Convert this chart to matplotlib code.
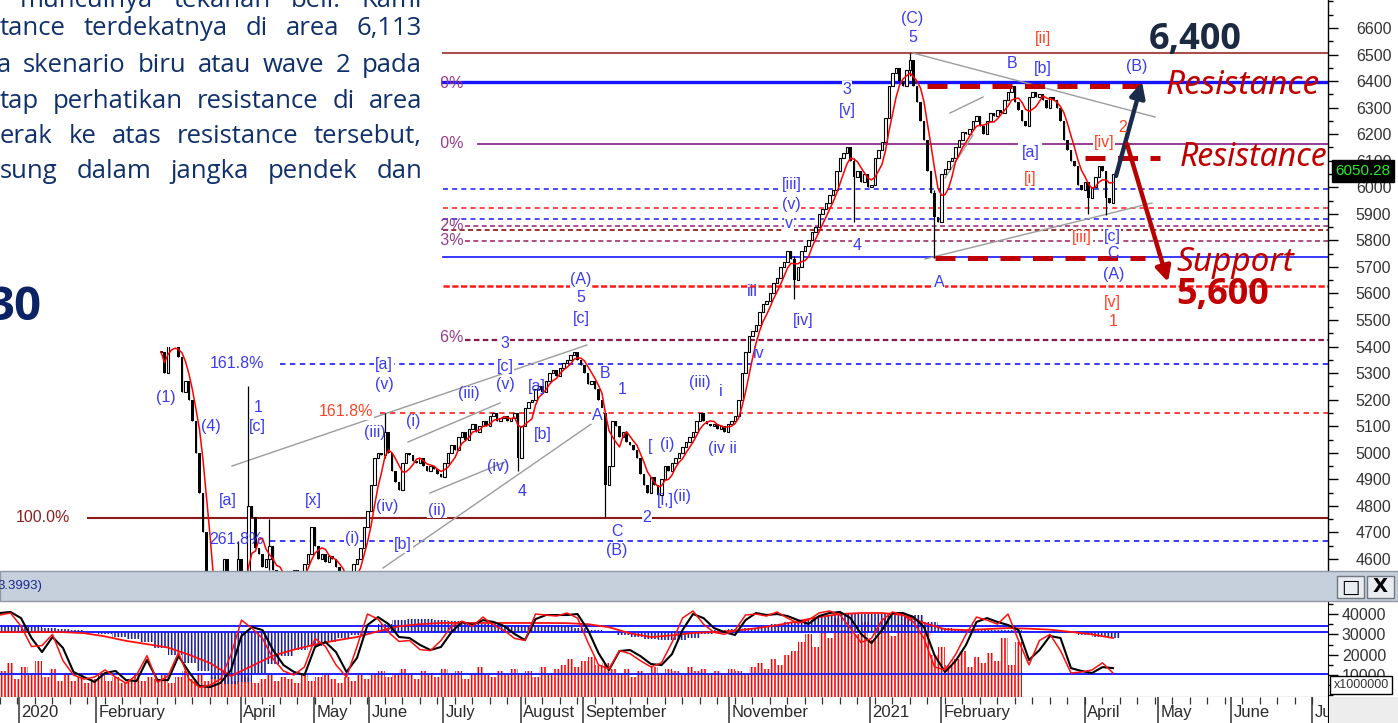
import numpy as np
import pandas as pd
import matplotlib
matplotlib.use("Agg")
import matplotlib.pyplot as plt
from matplotlib.patches import Rectangle
from matplotlib.ticker import MultipleLocator, FuncFormatter

plt.rcParams['font.family'] = ['Liberation Sans', 'DejaVu Sans']
plt.rcParams['hatch.linewidth'] = 1.15

W, H = 1398, 723
STEP = 3.5          # screen pixels per trading day
FIRST_BAR = 46      # bar index of the first visible candle

# ---------------- data ----------------
close = [
    5380, 5300, 5430, 5440, 5420, 5360, 5230, 5270, 5200, 5120,
    5000, 4850, 4700, 4500, 4400, 4200, 4300, 4450, 4600, 4450,
    4350, 4500, 4600, 4400, 4550, 4800, 4760, 4640, 4620, 4570,
    4600, 4650, 4560, 4500, 4540, 4480, 4520, 4470, 4560, 4520,
    4540, 4580, 4620, 4720, 4650, 4600, 4620, 4590, 4610, 4600,
    4570, 4540, 4500, 4480, 4530, 4580, 4600, 4640, 4720, 4780,
    4880, 4980, 5000, 4990, 5080, 5000, 4930, 4890, 4860, 4960,
    5000, 4990, 4970, 4960, 4980, 4950, 4930, 4950, 4940, 4920,
    4910, 4960, 5000, 5030, 5010, 5060, 5080, 5050, 5090, 5110,
    5080, 5100, 5120, 5100, 5140, 5150, 5120, 5130, 5140, 5120,
    5130, 5150, 4980, 5100, 5170, 5190, 5200, 5240, 5250, 5230,
    5270, 5300, 5310, 5290, 5320, 5340, 5350, 5370, 5380, 5350,
    5330, 5300, 5260, 5270, 5240, 5200, 5150, 4880, 4950, 5120,
    5100, 5060, 5080, 5040, 5030, 5010, 4980, 4920, 4880, 4850,
    4910, 4880, 4840, 4900, 4950, 4930, 4960, 4980, 5000, 5020,
    5040, 5060, 5080, 5120, 5150, 5120, 5110, 5100, 5110, 5090,
    5100, 5080, 5110, 5120, 5140, 5200, 5300, 5380, 5440, 5460,
    5480, 5530, 5560, 5570, 5600, 5640, 5660, 5700, 5720, 5760,
    5730, 5650, 5700, 5760, 5780, 5800, 5830, 5850, 5900, 5920,
    5940, 5970, 5990, 6060, 6110, 6130, 6150, 6100, 6040, 6060,
    6020, 6050, 6000, 6010, 6110, 6140, 6170, 6260, 6380, 6430,
    6450, 6400, 6380, 6440, 6480, 6380, 6320, 6250, 6180, 6060,
    5980, 5890, 5870, 6050, 6070, 6100, 6110, 6150, 6180, 6210,
    6200, 6220, 6250, 6270, 6230, 6200, 6250, 6280, 6270, 6290,
    6280, 6330, 6360, 6380, 6320, 6290, 6250, 6230, 6340, 6360,
    6340, 6350, 6330, 6300, 6340, 6330, 6300, 6250, 6180, 6140,
    6100, 6080, 6010, 5990, 6020, 5960, 6000, 6040, 6080, 6060,
    5960, 5940, 6050.28,
]
wick_idx = [22, 25, 31, 64, 102, 127, 181, 198, 214, 221, 265, 270]
wick_low = [4420, 4590, 4560, 4980, 4930, 4760, 5580, 5870, 6420, 5735, 5900, 5895]
wick_high = [4668, 5253, 4750, 5151, 5150, 5150, 5740, 6110, 6505, 5990, 6020, 6060]

level_prices = [6505, 6395, 6162, 5993, 5921, 5879, 5853, 5840, 5796, 5736,
                5630, 5423, 5333, 5151, 4755, 4668]
sr_prices = [6382, 6109, 5735]

# lower panel (values in thousands)
osc_black = [
    40.5, 41.0, 38.0, 28.2, 21.3, 28.7, 23.3, 11.5, 9.0, 6.6,
    11.0, 12.0, 7.5, 7.0, 17.4, 7.5, 7.5, 19.3, 11.5, 4.6,
    4.1, 6.1, 12.5, 29.2, 33.6, 32.1, 22.3, 14.9, 11.5, 10.0,
    23.8, 26.2, 21.3, 11.5, 18.4, 34.6, 38.5, 35.1, 28.7, 28.2,
    24.8, 22.3, 23.8, 31.1, 36.1, 34.6, 37.0, 36.1, 34.1, 30.2,
    27.2, 37.5, 39.5, 39.5, 39.5, 40.0, 32.1, 20.8, 12.5, 21.8,
    22.3, 19.3, 15.4, 14.9, 20.3, 32.1, 40.0, 38.0, 33.1, 31.1,
    29.7, 37.0, 40.5, 39.5, 40.0, 39.0, 37.0, 35.1, 39.0, 40.5,
    41.0, 38.0, 30.2, 25.7, 32.1, 40.5, 40.5, 38.5, 33.6, 19.8,
    11.5, 16.9, 24.8, 36.1, 38.0, 36.1, 34.6, 32.1, 17.4, 22.3,
    29.2, 28.2, 13.4, 12.0, 11.0, 13.9, 13.4,
]
osc_red = [
    39.5, 40.5, 34.0, 24.0, 24.5, 30.0, 17.0, 10.0, 8.0, 9.0,
    12.5, 9.0, 6.0, 10.0, 19.5, 6.5, 9.5, 21.0, 8.0, 4.0,
    5.0, 8.0, 20.0, 37.0, 33.0, 28.0, 18.0, 12.0, 10.0, 14.0,
    28.0, 24.0, 15.0, 9.0, 24.0, 40.0, 37.5, 31.0, 26.5, 27.0,
    22.5, 22.0, 27.0, 34.0, 36.5, 34.0, 38.5, 34.5, 32.0, 28.0,
    27.0, 40.0, 39.5, 39.0, 40.5, 38.0, 26.0, 15.0, 13.0, 22.0,
    20.5, 17.0, 14.0, 16.0, 26.0, 38.0, 41.5, 35.0, 31.0, 30.0,
    32.0, 39.5, 40.0, 39.0, 41.0, 38.0, 35.5, 37.0, 40.5, 41.5,
    39.5, 33.0, 26.0, 28.0, 37.0, 41.0, 39.5, 36.0, 28.0, 14.0,
    12.5, 20.0, 30.0, 38.5, 37.0, 35.0, 40.0, 27.0, 15.0, 27.0,
    30.0, 22.0, 11.0, 11.5, 12.5, 16.0, 11.0,
]
osc_slow = [
    31.1, 31.1, 31.1, 31.1, 30.6, 29.0, 26.8, 25.2, 23.5, 20.0,
    15.9, 9.5, 14.5, 19.5, 22.5, 25.0, 27.0, 28.7, 31.5, 34.0,
    35.0, 35.6, 35.6, 35.6, 35.6, 35.6, 35.6, 35.5, 35.0, 33.5,
    30.5, 28.7, 29.5, 30.7, 31.1, 31.8, 33.0, 34.5, 36.5, 38.5,
    40.0, 40.5, 40.5, 39.5, 35.6, 32.5, 32.1, 32.6, 33.1, 32.8,
    32.3, 31.2, 30.0, 28.2,
]
hist_vals = [
    34.0, 34.0, 33.5, 33.0, 32.5, 32.0, 31.0, 30.0, 28.5, 27.5,
    26.0, 23.5, 20.0, 16.0, 12.0, 8.0, 5.5, 6.5, 11.0, 15.5,
    19.5, 22.5, 24.5, 26.0, 28.0, 29.5, 31.5, 35.0, 37.0, 37.5,
    37.5, 37.0, 36.5, 35.5, 35.0, 35.0, 34.5, 34.5, 34.0, 34.0,
    33.5, 33.0, 32.0, 30.5, 29.5, 28.5, 27.5, 27.0, 27.0, 28.0,
    30.0, 32.0, 32.5, 33.0, 34.0, 35.0, 36.0, 37.0, 38.5, 39.5,
    40.0, 40.0, 40.0, 40.0, 40.0, 39.5, 36.0, 33.0, 32.0, 32.0,
    32.0, 32.0, 32.0, 31.5, 31.5, 31.0, 30.5, 29.5, 28.5, 28.0,
]
hist_base = 31.0
volume = [
    12, 16, 8, 14, 10, 17, 9, 13, 7, 11,
    7, 9, 6, 8, 10, 7, 9, 6, 8, 11, 7, 9, 8, 10, 6, 9, 12, 8, 10, 7, 9,
    8, 10, 7, 11, 9, 6, 8, 10, 7, 9, 8, 6, 10, 7, 9, 11, 8, 6, 9, 7, 10, 8,
    10, 12, 9, 11, 13, 10, 8, 12, 11, 9, 13, 10, 12, 8, 11, 14, 10, 9, 12, 11,
    13, 10, 12, 9, 14, 11, 13,
    15, 18, 14, 17, 19, 15, 16, 13,
    11, 13, 9, 12, 10, 14, 11, 13, 12, 10, 14, 12, 13,
    11, 12, 10, 13, 12, 11,
    14, 16, 13, 18, 15, 20, 22,
    26, 30, 24, 34, 28, 38, 32, 40, 30, 36, 27, 33, 38, 29, 35, 40, 31, 37, 34,
    20, 24, 15, 18, 22, 14, 19, 16, 21, 17, 28, 15, 26,
]
ref_lines = [34.1, 31.1, 10.5]

month_names = ["2020", "February", "April", "May", "June", "July", "August",
               "September", "November", "2021", "February", "April", "May",
               "June", "July"]
month_px = [19, 96, 241, 314, 369, 443, 521, 583, 729, 870, 941, 1085, 1158,
            1231, 1312]

# text lines of the (cropped) commentary box, first word's left edge
para_lines = [
    (7, 20, "munculnya tekanan beli. Kami"),
    (35, 0, "tance terdekatnya di area 6,113"),
    (72, -3, "a skenario biru atau wave 2 pada"),
    (108, 0, "tap perhatikan resistance di area"),
    (143, 0, "erak ke atas resistance tersebut,"),
    (178, 0, "sung dalam jangka pendek dan"),
]

# ---------------- helpers ----------------
fig = plt.figure(figsize=(W / 100, H / 100), dpi=100)
fig.patch.set_facecolor('white')


def box(x0, y0, x1, y1):
    return [x0 / W, 1 - y1 / H, (x1 - x0) / W, (y1 - y0) / H]


def bx(px):
    return px / STEP


def py(y):
    return 6600 - (y - 28) / 0.2655


def ftext(x, y, s, **kw):
    return fig.text(x / W, 1 - y / H, s, **kw)


BLUE = '#3b3bf2'
RED = '#ff4326'

# ---------------- price panel ----------------
ax = fig.add_axes(box(0, 0, 1328, 571))
ax.set_xlim(0, bx(1328))
ax.set_ylim(py(571), py(0))
for s in ['left', 'top', 'bottom']:
    ax.spines[s].set_visible(False)
ax.spines['right'].set_linewidth(1.0)
ax.set_xticks([])
ax.yaxis.tick_right()
ax.set_yticks(np.arange(4600, 6601, 100))
ax.yaxis.set_minor_locator(MultipleLocator(50))
ax.tick_params(axis='y', which='major', length=7, width=1, pad=13,
               labelsize=11.5, labelcolor='#333333')
ax.tick_params(axis='y', which='minor', length=3.5, width=1)

# horizontal fibonacci / wave levels
lvl_style = [
    ('#a8504a', '-', 1.5, [(443, 1328)]),
    ('#1414ff', '-', 2.4, [(443, 1328)]),
    ('#8e2c8e', '-', 1.3, [(478, 1017), (1043, 1328)]),
    ('#2a2aff', (0, (3, 2.5)), 1.2, [(443, 1328)]),
    ('#ff2a2a', (0, (3, 2.5)), 1.2, [(443, 1328)]),
    ('#2a2aff', (0, (3, 2.5)), 1.2, [(443, 1328)]),
    ('#a03080', (0, (3, 2)), 1.2, [(465, 1328)]),
    ('#8b1010', (0, (3, 2)), 1.2, [(443, 1328)]),
    ('#a03070', (0, (3, 2)), 1.2, [(465, 1328)]),
    ('#2a2aff', '-', 1.3, [(443, 1328)]),
    ('#ff1a1a', (0, (2.5, 1)), 1.8, [(443, 1328)]),
    ('#8b1a4b', (0, (2.5, 1.5)), 1.6, [(465, 1328)]),
    ('#2a2aff', (0, (3, 2.5)), 1.3, [(280, 1328)]),
    ('#ff2a2a', (0, (3, 2.5)), 1.3, [(380, 1328)]),
    ('#8b1a1a', '-', 1.5, [(88, 1328)]),
    ('#2a2aff', (0, (3, 2.5)), 1.3, [(270, 1328)]),
]
for price, (col, ls, lw, segs) in zip(level_prices, lvl_style):
    for x0, x1 in segs:
        ax.plot([bx(x0), bx(x1)], [price, price], color=col, ls=ls, lw=lw, zorder=2)

# gray trend lines
for x0, y0, x1, y1 in [(232, 466, 587, 345), (408, 442, 500, 403),
                       (430, 493, 505, 462), (383, 568, 597, 420),
                       (913, 53, 1155, 117), (925, 259, 1152, 203),
                       (950, 113, 983, 97), (945, 178, 973, 135)]:
    ax.plot([bx(x0), bx(x1)], [py(y0), py(y1)], color='#9c9c9c', lw=1, zorder=3)

# candles
c = np.array(close, float)
o = np.r_[c[0], c[:-1]]
hi = np.maximum(o, c)
lo = np.minimum(o, c)
hw, lw_ = hi.copy(), lo.copy()
for i, l, h in zip(wick_idx, wick_low, wick_high):
    lw_[i] = min(lw_[i], l)
    hw[i] = max(hw[i], h)
xb = FIRST_BAR + np.arange(len(c))
ax.vlines(xb, lw_, hw, color='black', lw=0.9, zorder=4)
up = c >= o
hgt = np.maximum(hi - lo, 5)
ax.bar(xb[up], hgt[up], bottom=lo[up], width=0.75, facecolor='white',
       edgecolor='black', lw=0.8, zorder=5)
ax.bar(xb[~up], hgt[~up], bottom=lo[~up], width=0.75, color='black', zorder=5)
ma = pd.Series(c).rolling(5, min_periods=1).mean()
ax.plot(xb, ma, color='#ff0000', lw=1.1, zorder=6)

# support / resistance dashes
for price, (x0, x1) in zip(sr_prices, [(927, 1145), (1085, 1160), (935, 1145)]):
    ax.plot([bx(x0), bx(x1)], [price, price], color='#c00000', lw=3.6,
            ls=(0, (4, 2.5)), zorder=7, solid_capstyle='butt')

# arrows
ax.annotate('', xy=(1142, H - 82), xycoords='figure pixels',
            xytext=(1116, H - 176), textcoords='figure pixels',
            arrowprops=dict(arrowstyle='-|>,head_length=0.9,head_width=0.45',
                            color='#1b2b4b', lw=3.2, shrinkA=0, shrinkB=0),
            zorder=8)
ax.annotate('', xy=(1168, H - 282), xycoords='figure pixels',
            xytext=(1127, H - 144), textcoords='figure pixels',
            arrowprops=dict(arrowstyle='-|>,head_length=0.9,head_width=0.45',
                            color='#b80000', lw=3.2, shrinkA=0, shrinkB=0),
            zorder=8)

# wave labels
B, R = BLUE, RED
labels = [
    ("(C)", 912, 19, B, 0), ("5", 913, 38, B, 0), ("[ii]", 1043, 39, R, 0),
    ("B", 1012, 64, B, 0), ("[b]", 1043, 69, B, 0), ("(B)", 1137, 67, B, 0),
    ("3", 847, 89, B, 1), ("[v]", 847, 110, B, 0), ("2", 1123, 128, R, 0),
    ("[iv]", 1104, 142, R, 1), ("[a]", 1031, 153, B, 0), ("[i]", 1030, 179, R, 0),
    ("[iii]", 792, 185, B, 1), ("(v)", 791, 205, B, 1), ("v", 789, 223, B, 1),
    ("[iii]", 1082, 238, R, 1), ("[c]", 1112, 237, B, 1), ("4", 857, 246, B, 1),
    ("C", 1113, 253, B, 0), ("(A)", 1114, 274, B, 0), ("A", 939, 283, B, 1),
    ("(A)", 581, 280, B, 1), ("5", 581, 298, B, 0), ("[c]", 581, 318, B, 0),
    ("iii", 752, 292, B, 0), ("[v]", 1112, 302, R, 0), ("1", 1113, 321, R, 0),
    ("[iv]", 803, 320, B, 0), ("3", 505, 344, B, 1), ("iv", 759, 353, B, 0),
    ("[a]", 384, 365, B, 1), ("[c]", 505, 366, B, 1), ("B", 605, 373, B, 0),
    ("(iii)", 700, 383, B, 0), ("(v)", 384, 384, B, 0), ("(v)", 505, 384, B, 0),
    ("[a]", 537, 387, B, 0), ("1", 622, 389, B, 0), ("i", 721, 392, B, 0),
    ("(iii)", 469, 394, B, 0), ("(1)", 166, 397, B, 0), ("1", 258, 408, B, 0),
    ("A", 597, 416, B, 1), ("(i)", 413, 421, B, 0), ("(4)", 211, 427, B, 0),
    ("[c]", 257, 427, B, 0), ("(iii)", 375, 433, B, 0), ("[b]", 543, 434, B, 0),
    ("[", 650, 447, B, 0), ("(i)", 667, 445, B, 0), ("(iv ii", 722, 449, B, 0),
    ("(iv)", 498, 466, B, 0), ("4", 522, 491, B, 0), ("[i,]", 665, 500, B, 0),
    ("(ii)", 682, 497, B, 0), ("[x]", 313, 500, B, 0), ("[a]", 228, 501, B, 0),
    ("(iv)", 387, 507, B, 0), ("(ii)", 437, 510, B, 1), ("2", 647, 518, B, 1),
    ("C", 617, 532, B, 1), ("(i)", 352, 539, B, 1), ("[b]", 403, 545, B, 1),
    ("(B)", 617, 550, B, 1),
    ("161.8%", 237, 364, B, 1), ("161.8%", 346, 412, R, 1),
    ("261.8%", 236, 540, B, 0), ("100.0%", 43, 517, '#8b2020', 1),
]
for s, x, y, col, mask in labels:
    kw = dict(ha='center', va='center', color=col, fontsize=11.5)
    if mask:
        kw['bbox'] = dict(facecolor='white', edgecolor='none', pad=0.6)
    ftext(x, y, s, **kw)

# fib labels partly hidden behind the text box
for s, y in [("100.0%", 83), ("50.0%", 143), ("38.2%", 226), ("78.3%", 241),
             ("23.6%", 338)]:
    ftext(464, y, s, ha='right', va='center', color='#9a3a8a', fontsize=11.5)

# ---------------- indicator header ----------------
fig.add_artist(Rectangle((0, 1 - 601 / H), 1, 30 / H, transform=fig.transFigure,
                         facecolor='#c5d0dc', edgecolor='#8e98a2', lw=1, zorder=1))
ftext(-3, 586, "3.3993)", ha='left', va='center', color='#1a2a8a', fontsize=9.5)
for x0, sym in [(1337, "\u25a1"), (1367, "X")]:
    fig.add_artist(Rectangle((x0 / W, 1 - 598 / H), 27 / W, 22 / H,
                             transform=fig.transFigure, facecolor='#e9edf1',
                             edgecolor='#6f7780', lw=1, zorder=2))
    ftext(x0 + 13.5, 587, sym, ha='center', va='center', fontsize=14,
          fontweight='bold', color='black', family='DejaVu Sans')

# ---------------- indicator panel ----------------
ax2 = fig.add_axes(box(0, 601, 1328, 697))
ax2.set_xlim(0, bx(1328))
ax2.set_ylim(-0.8, 46.4)
for s in ['left', 'top']:
    ax2.spines[s].set_visible(False)
ax2.set_xticks([])
ax2.yaxis.tick_right()
ax2.set_yticks([10, 20, 30, 40])
ax2.yaxis.set_minor_locator(MultipleLocator(5))
ax2.yaxis.set_major_formatter(FuncFormatter(lambda v, _: f"{int(round(v * 1000))}"))
ax2.tick_params(axis='y', which='major', length=7, width=1, pad=3,
                labelsize=11.5, labelcolor='#333333')
ax2.tick_params(axis='y', which='minor', length=3.5, width=1)

vx = np.arange(len(volume)) * 2
ax2.bar(vx, np.array(volume) + 0.8, bottom=-0.8, width=2, align='edge',
        facecolor='none', edgecolor='#ff0000', lw=0, hatch='|||||', zorder=1)
hx = np.arange(len(hist_vals)) * 4
ax2.bar(hx, np.array(hist_vals) - hist_base, bottom=hist_base, width=4,
        align='edge', facecolor='none', edgecolor='#1c1c96', lw=0,
        hatch='|||||', zorder=2)
for v in ref_lines:
    ax2.axhline(v, color='#1f1fff', lw=1.4, zorder=3)
ax2.plot(np.arange(len(osc_slow)) * 6, osc_slow, color='#ff1010', lw=1.3, zorder=4)
ax2.plot(np.arange(len(osc_black)) * 3, osc_black, color='black', lw=1.5, zorder=5)
ax2.plot(np.arange(len(osc_red)) * 3, osc_red, color='#ff1010', lw=1.1, zorder=6)

fig.add_artist(Rectangle((1330 / W, 1 - 694 / H), 62 / W, 18 / H,
                         transform=fig.transFigure, facecolor='white',
                         edgecolor='black', lw=1, zorder=3))
ftext(1361, 685, "x1000000", ha='center', va='center', fontsize=9, color='#333333')

# ---------------- date strip ----------------
ax3 = fig.add_axes(box(0, 697, 1328, 723))
ax3.set_xlim(0, bx(1328))
ax3.set_ylim(0, 1)
for s in ['left', 'top', 'bottom']:
    ax3.spines[s].set_visible(False)
ax3.set_xticks([])
ax3.set_yticks([])
mb = [bx(p) for p in month_px]
ax3.vlines(np.arange(0, bx(1328), 5), 0.72, 1, color='#333333', lw=0.9)
ax3.vlines(mb, 0, 1, color='#333333', lw=1.1)
for name, x in zip(month_names, mb):
    ax3.text(x + 0.7, 0.42, name, ha='left', va='center', fontsize=12,
             color='#2a2a2a', clip_on=True)
fig.add_artist(Rectangle((1329 / W, 0), 69 / W, 26 / H, transform=fig.transFigure,
                         facecolor='#ededed', edgecolor='none', zorder=1))

# ---------------- overlay text ----------------
fig.add_artist(Rectangle((0, 1 - 347 / H), 441 / W, 347 / H,
                         transform=fig.transFigure, facecolor='white',
                         edgecolor='none', zorder=4))

# justified commentary: measure every word and spread the gaps to x = 422
renderer = fig.canvas.get_renderer()
RIGHT = 422
for yb, x_start, line in para_lines:
    words = line.split()
    texts = [ftext(0, yb, w, ha='left', va='baseline', fontsize=18.5,
                   color='#10306c', family='Open Sans', zorder=5) for w in words]
    widths = [t.get_window_extent(renderer).width for t in texts]
    gap = (RIGHT - x_start - sum(widths)) / max(len(words) - 1, 1)
    x = x_start
    for t, wdt in zip(texts, widths):
        t.set_x(x / W)
        x += wdt + gap

ftext(41, 307, "30", ha='right', va='center', fontsize=34, fontweight='bold',
      color='#0b2265', family='Open Sans', zorder=5)

# price tag and big annotations
ftext(1363, 171, "6050.28", ha='center', va='center', fontsize=11,
      color='#22ee22', bbox=dict(facecolor='black', edgecolor='black', pad=2.5),
      zorder=6)
ftext(1195, 40, "6,400", ha='center', va='center', fontsize=26, fontweight='bold',
      color='#1b2a41', family='Open Sans', zorder=6)
ftext(1243, 85, "Resistance", ha='center', va='center', fontsize=24,
      style='italic', color='#c00000', family='Noto Sans', zorder=6)
ftext(1254, 157, "Resistance", ha='center', va='center', fontsize=23,
      style='italic', color='#c00000', family='Noto Sans', zorder=6)
ftext(1235, 262, "Support", ha='center', va='center', fontsize=24,
      style='italic', color='#c00000', family='Noto Sans', zorder=6)
ftext(1223, 295, "5,600", ha='center', va='center', fontsize=26, fontweight='bold',
      color='#c00000', family='Open Sans', zorder=6)

fig.savefig("out.png", dpi=100)
